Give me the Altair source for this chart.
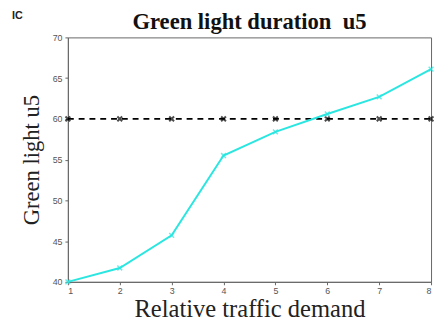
import altair as alt
import pandas as pd

demand = [1, 2, 3, 4, 5, 6, 7, 8]
u5_values = [40.0, 41.7, 45.7, 55.5, 58.4, 60.6, 62.7, 66.1]
fixed_values = [60, 60, 60, 60, 60, 60, 60, 60]

df = pd.DataFrame({"x": demand, "u5": u5_values, "fixed": fixed_values})

xmark = "M-1,-1L1,1M-1,1L1,-1"

x_enc = alt.X("x:Q", scale=alt.Scale(domain=[1, 8], nice=False),
              axis=alt.Axis(values=demand, title="Relative traffic demand", format="d",
                            labelFontSize=9, labelColor="#555", labelFont="Liberation Sans",
                            titleFont="Liberation Serif", titleFontSize=25, titleFontWeight="normal",
                            titleColor="#222", titlePadding=1, tickSize=3, tickColor="#666",
                            domainColor="#666", grid=False, labelPadding=2))
y_scale = alt.Scale(domain=[40, 70], nice=False)
y_axis = alt.Axis(values=[40, 45, 50, 55, 60, 65, 70], title="Green light u5",
                  labelFontSize=9, labelColor="#555", labelFont="Liberation Sans",
                  titleFont="Liberation Serif", titleFontSize=23, titleFontWeight="normal",
                  titleColor="#222", titlePadding=9, tickSize=3, tickColor="#666",
                  domainColor="#666", grid=False, labelPadding=3)

base = alt.Chart(df)

fixed_line = base.mark_line(color="black", strokeDash=[6, 5], strokeWidth=1.6).encode(
    x=x_enc, y=alt.Y("fixed:Q", scale=y_scale, axis=y_axis))
fixed_pts = base.mark_point(shape=xmark, color="black", size=24, strokeWidth=2).encode(
    x="x:Q", y="fixed:Q")
u5_line = base.mark_line(color="#2be6e0", strokeWidth=2).encode(
    x="x:Q", y="u5:Q")
u5_pts = base.mark_point(shape=xmark, color="#2be6e0", size=24, strokeWidth=1.5).encode(
    x="x:Q", y="u5:Q")

corner = alt.Chart(pd.DataFrame({"t": ["IC"]})).mark_text(
    font="Liberation Sans", fontSize=11, fontWeight="bold", color="#222",
    align="left", baseline="alphabetic", clip=False
).encode(text="t:N", x=alt.value(-57), y=alt.value(-19))

chart = alt.layer(fixed_line, fixed_pts, u5_line, u5_pts, corner).properties(
    width=370, height=249,
    title=alt.TitleParams("Green light duration\u00a0 u5", font="Liberation Serif", fontSize=23,
                          fontWeight="bold", color="#111", offset=1, dy=25),
    autosize=alt.AutoSizeParams(type="none"),
    padding={"left": 61, "top": 27, "right": 3, "bottom": 40},
).configure_view(stroke="#666", strokeWidth=1)

chart.save("out.html", embed_options={"renderer": "svg", "actions": False})
